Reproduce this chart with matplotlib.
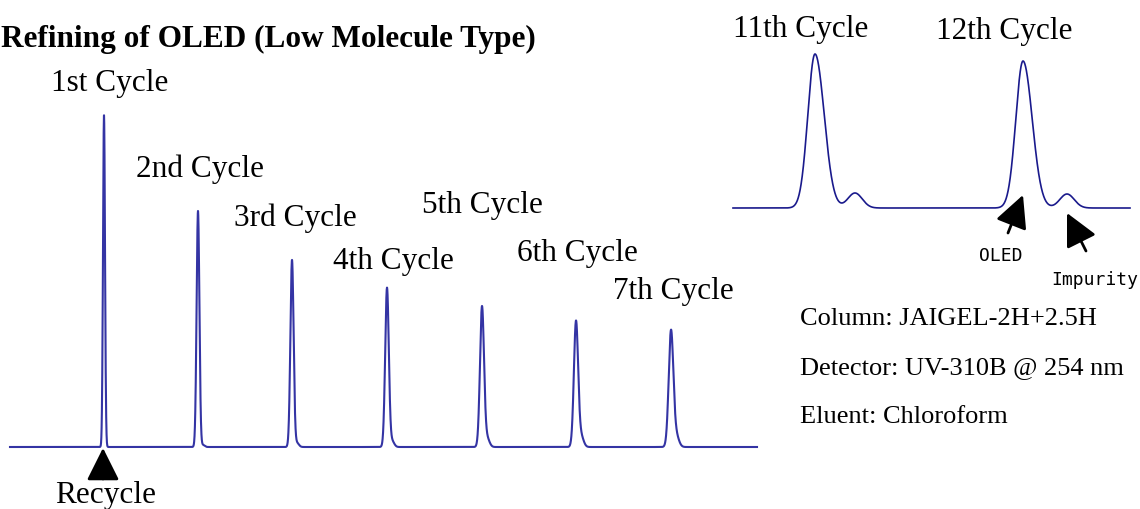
import numpy as np
import matplotlib
matplotlib.use("Agg")
import matplotlib.pyplot as plt

plt.rcParams['font.family'] = ['Liberation Serif', 'DejaVu Serif']

# ---------------- data ----------------
cycle_labels = ["1st Cycle", "2nd Cycle", "3rd Cycle", "4th Cycle",
                "5th Cycle", "6th Cycle", "7th Cycle"]
cycle_pos = [9.4, 18.8, 28.2, 37.7, 47.2, 56.6, 66.1]          # retention (a.u.)
cycle_height = [332, 236, 187, 159, 140, 125, 115]             # detector response
cycle_sigma = [0.10, 0.14, 0.16, 0.18, 0.20, 0.21, 0.23]
shoulder_offset = [0.5, 0.5, 0.5, 0.5, 0.5, 0.5, 0.5]
shoulder_height = [0, 2, 4, 6, 9, 11, 12]

late_labels = ["11th Cycle", "12th Cycle"]
late_pos = [8.2, 29.0]
late_height = [154, 147]
late_sig_left = [0.72, 0.72]
late_sig_right = [0.92, 0.92]
imp_pos = [12.2, 33.4]
imp_height = [15, 14]
imp_sigma = [0.72, 0.72]

conditions = ["Column: JAIGEL-2H+2.5H",
              "Detector: UV-310B @ 254 nm",
              "Eluent: Chloroform"]

W, H = 1140, 509
fig = plt.figure(figsize=(W / 100, H / 100), dpi=100)
fig.patch.set_facecolor('white')

def fx(px):
    return px / W

def fy(py):
    return 1 - py / H

# ---------------- main chromatogram ----------------
ax = fig.add_axes([fx(10), fy(452), fx(757) - fx(10), (452 - 102) / H])
t = np.linspace(0, 74.7, 8000)
sig = np.zeros_like(t)
for p, h, s, so, sh in zip(cycle_pos, cycle_height, cycle_sigma,
                           shoulder_offset, shoulder_height):
    sig += h * np.exp(-0.5 * ((t - p) / s) ** 2)
    sig += sh * np.exp(-0.5 * ((t - p - so) / (s * 1.2)) ** 2)
ax.plot(t, sig, color='#3434a4', lw=1.5, clip_on=False)
ax.set_xlim(0, 74.7)
ax.set_ylim(-5, 345)
ax.axis('off')

# ---------------- inset (11th / 12th cycle) ----------------
ax2 = fig.add_axes([fx(733), fy(213), fx(1130) - fx(733), 170 / H])
t2 = np.linspace(0, 39.7, 4000)
sig2 = np.zeros_like(t2)
for p, h, sl, sr in zip(late_pos, late_height, late_sig_left, late_sig_right):
    s = np.where(t2 < p, sl, sr)
    sig2 += h * np.exp(-0.5 * ((t2 - p) / s) ** 2)
for p, h, s in zip(imp_pos, imp_height, imp_sigma):
    sig2 += h * np.exp(-0.5 * ((t2 - p) / s) ** 2)
ax2.plot(t2, sig2, color='#1a1a8c', lw=1.2, clip_on=False)
ax2.set_xlim(0, 39.7)
ax2.set_ylim(-5, 165)
ax2.axis('off')

# ---------------- text ----------------
fig.text(fx(1), fy(39), "Refining of OLED (Low Molecule Type)",
         fontsize=22.5, fontweight='bold', ha='left', va='center')

label_xy = [(110, 84), (200, 169), (295, 218), (393, 261),
            (482, 206), (577, 254), (673, 291)]
for lab, (x, y) in zip(cycle_labels, label_xy):
    fig.text(fx(x), fy(y), lab, fontsize=22.5, ha='center', va='center')

for lab, (x, y) in zip(late_labels, [(801, 29), (1004, 31)]):
    fig.text(fx(x), fy(y), lab, fontsize=22.5, ha='center', va='center')

for i, c in enumerate(conditions):
    fig.text(fx(800), fy(319 + 49 * i), c, fontsize=19,
             ha='left', va='center')

fig.text(fx(106), fy(503), "Recycle", fontsize=22.5, ha='center',
         va='baseline')
fig.text(fx(1001), fy(256), "OLED", fontsize=13, ha='center', va='center',
         family='DejaVu Sans Mono')
fig.text(fx(1095), fy(280), "Impurity", fontsize=13, ha='center',
         va='center', family='DejaVu Sans Mono')

arrow_kw = dict(arrowstyle='-|>,head_length=0.8,head_width=0.4',
                color='black', lw=2, mutation_scale=25,
                shrinkA=0, shrinkB=0)
for tail, tip in [((103, 479), (103, 448)),
                  ((1008, 233), (1023, 195)),
                  ((1086, 251), (1067, 213))]:
    fig.add_artist(matplotlib.patches.FancyArrowPatch(
        (fx(tail[0]), fy(tail[1])), (fx(tip[0]), fy(tip[1])),
        transform=fig.transFigure, **arrow_kw))

fig.savefig("out.png", dpi=100, facecolor='white')
